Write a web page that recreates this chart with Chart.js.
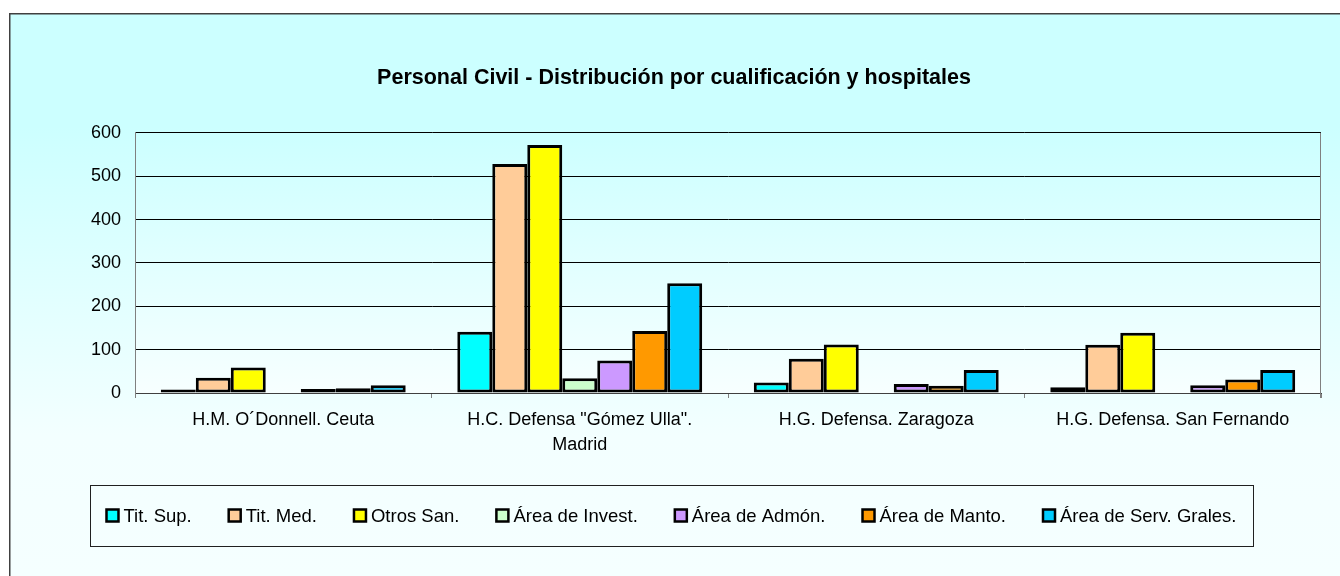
<!DOCTYPE html>
<html>
<head>
<meta charset="utf-8">
<script src="https://cdn.jsdelivr.net/npm/chart.js@4.4.1/dist/chart.umd.min.js"></script>
<style>
  html, body { margin: 0; padding: 0; background: #fff; }
  #wrap { width: 1340px; height: 576px; }
</style>
</head>
<body>
<div id="wrap"><canvas id="chart" width="1340" height="576"></canvas></div>
<script>
// datos
const hospitales = ['H.M. O´Donnell. Ceuta', ['H.C. Defensa "Gómez Ulla".', 'Madrid'], 'H.G. Defensa. Zaragoza', 'H.G. Defensa. San Fernando'];
const titSup = [8, 141, 24, 13];
const titMed = [35, 528, 79, 111];
const otrosSan = [59, 572, 112, 139];
const areaInvest = [0, 34, 0, 0];
const areaAdmon = [9, 75, 21, 18];
const areaManto = [11, 143, 17, 31];
const areaServ = [18, 253, 53, 53];
const yMax = 600;
const yStep = 100;

const FONT = 'Arial, "Liberation Sans", sans-serif';

function serie(label, data, color) {
  return {
    label: label,
    data: data,
    backgroundColor: color,
    borderColor: '#000000',
    borderWidth: 3,
    borderSkipped: false,
    categoryPercentage: 0.826,
    barPercentage: 1.0,
  };
}

// fondo degradado, marco exterior y fondo del área de trazado
const fondo = {
  id: 'fondo',
  beforeDraw(chart) {
    const ctx = chart.ctx;
    const a = chart.chartArea;
    ctx.save();
    ctx.fillStyle = '#ffffff';
    ctx.fillRect(0, 0, chart.width, chart.height);
    const g = ctx.createLinearGradient(0, 14, 0, chart.height);
    g.addColorStop(0, '#ccffff');
    g.addColorStop(0.2, '#ccffff');
    g.addColorStop(0.75, '#f3ffff');
    g.addColorStop(1, '#f5ffff');
    ctx.fillStyle = g;
    ctx.fillRect(10, 14, chart.width, chart.height);
    ctx.strokeStyle = '#404040';
    ctx.lineWidth = 1.5;
    ctx.strokeRect(9.75, 13.75, chart.width + 10, chart.height + 10);
    const gp = ctx.createLinearGradient(0, a.top, 0, a.bottom);
    gp.addColorStop(0, '#ccffff');
    gp.addColorStop(1, '#f7ffff');
    ctx.fillStyle = gp;
    ctx.fillRect(a.left, a.top, a.right - a.left, a.bottom - a.top);
    ctx.restore();
  },
  afterDraw(chart) {
    const ctx = chart.ctx;
    const a = chart.chartArea;
    ctx.save();
    ctx.strokeStyle = '#808080';
    ctx.lineWidth = 1;
    ctx.beginPath();
    ctx.moveTo(Math.round(a.right) - 0.5, a.top);
    ctx.lineTo(Math.round(a.right) - 0.5, a.bottom + 5);
    ctx.stroke();
    ctx.restore();
  }
};

// leyenda en recuadro, como en la hoja original
const leyenda = {
  id: 'leyenda',
  afterDraw(chart) {
    const ctx = chart.ctx;
    const box = { left: 90, right: 1253, top: 485, bottom: 546 };
    const cy = (box.top + box.bottom) / 2;
    const sq = 12, gapTxt = 5, gap = 37;
    ctx.save();
    ctx.strokeStyle = '#202020';
    ctx.lineWidth = 1;
    ctx.strokeRect(box.left + 0.5, box.top + 0.5, box.right - box.left, box.bottom - box.top);
    ctx.font = '18.5px ' + FONT;
    ctx.textBaseline = 'middle';
    const ds = chart.data.datasets;
    const widths = ds.map(d => sq + gapTxt + ctx.measureText(d.label).width);
    const total = widths.reduce((s, w) => s + w, 0) + gap * (ds.length - 1);
    let x = (box.left + box.right - total) / 2;
    ds.forEach((d, i) => {
      ctx.fillStyle = d.backgroundColor;
      ctx.fillRect(x, cy - sq / 2, sq, sq);
      ctx.strokeStyle = '#000';
      ctx.lineWidth = 2.5;
      ctx.strokeRect(x, cy - sq / 2, sq, sq);
      ctx.fillStyle = '#000';
      ctx.fillText(d.label, x + sq + gapTxt, cy + 1);
      x += widths[i] + gap;
    });
    ctx.restore();
  }
};

const ctx = document.getElementById('chart').getContext('2d');
new Chart(ctx, {
  type: 'bar',
  data: {
    labels: hospitales,
    datasets: [
      serie('Tit. Sup.', titSup, '#00ffff'),
      serie('Tit. Med.', titMed, '#ffcc99'),
      serie('Otros San.', otrosSan, '#ffff00'),
      serie('Área de Invest.', areaInvest, '#ccffcc'),
      serie('Área de Admón.', areaAdmon, '#cc99ff'),
      serie('Área de Manto.', areaManto, '#ff9900'),
      serie('Área de Serv. Grales.', areaServ, '#00ccff'),
    ],
  },
  options: {
    responsive: false,
    animation: false,
    devicePixelRatio: 1,
    layout: { padding: { left: 27, right: 19, top: 0, bottom: 103 } },
    plugins: {
      legend: { display: false },
      tooltip: { enabled: false },
      title: {
        display: true,
        text: 'Personal Civil - Distribución por cualificación y hospitales',
        color: '#000',
        font: { family: FONT, size: 21.5, weight: 'bold', lineHeight: 1.2 },
        padding: { top: 65, bottom: 42 },
      },
    },
    scales: {
      x: {
        grid: {
          offset: true,
          drawOnChartArea: false,
          drawTicks: true,
          tickLength: 5,
          color: '#808080',
        },
        border: { color: '#404040', width: 1 },
        ticks: {
          color: '#000',
          font: { family: FONT, size: 18, lineHeight: 1.4 },
          padding: 9,
          maxRotation: 0,
          autoSkip: false,
        },
        afterFit(scale) { scale.height = 80; },
      },
      y: {
        min: 0,
        max: yMax,
        grid: { color: '#000', lineWidth: 1, drawTicks: false },
        border: { color: '#808080', width: 1 },
        ticks: {
          stepSize: yStep,
          color: '#000',
          font: { family: FONT, size: 18 },
          padding: 14,
        },
        afterFit(scale) { scale.width = 108; },
      },
    },
  },
  plugins: [fondo, leyenda],
});
</script>
</body>
</html>
